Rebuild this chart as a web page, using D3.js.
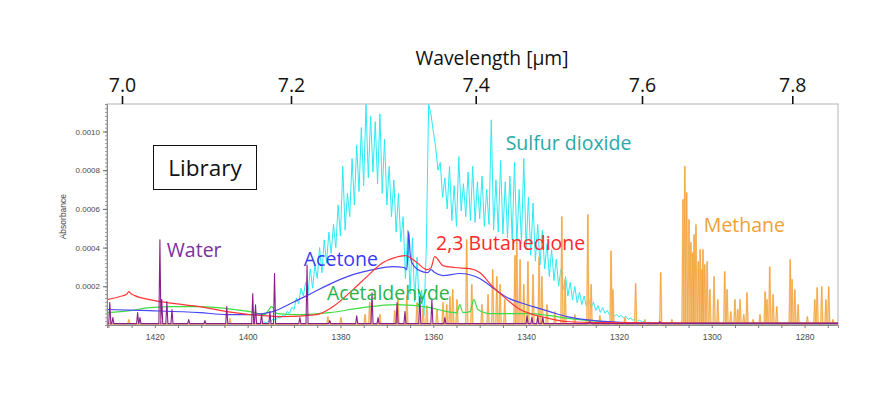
<!DOCTYPE html>
<html>
<head>
<meta charset="utf-8">
<script src="https://cdn.jsdelivr.net/npm/d3@7"></script>
<style>
    body { margin: 0; background: #fff; }
    svg { display: block; }
</style>
</head>
<body>
<div id="chart"></div>
<script>
// absorbance values below are in units of 1e-4
const ABS_UNIT = 1e-4;

const wavelengthTicks = [7.0, 7.2, 7.4, 7.6, 7.8];
const wavenumberTicks = [1420, 1400, 1380, 1360, 1340, 1320, 1300, 1280];
const absorbanceTicks = [2, 4, 6, 8, 10];

// sulfur dioxide, sampled every 0.5 cm-1 from 1400 cm-1 downwards
const so2Start = 1400;
const so2Step = 0.5;
const so2Values = [
    0.05, 0.06, 0.06, 0.08, 0.08, 0.1, 0.1, 0.15, 0.12, 0.2,
    0.2, 0.3, 0.25, 0.4, 0.35, 0.5, 0.45, 0.7, 0.6, 0.9,
    0.8, 1.4, 1.1, 1.9, 1.5, 2.2, 1.6, 2.9, 1.9, 3.1,
    2.4, 4.0, 2.7, 4.4, 3.2, 4.8, 3.7, 5.2, 4.0, 6.2,
    4.6, 8.2, 4.9, 6.8, 5.6, 8.6, 6.2, 9.3, 6.9, 10.2,
    7.2, 11.4, 7.6, 10.8, 7.9, 10.5, 7.3, 10.9, 6.8, 9.6,
    6.2, 8.2, 5.6, 7.5, 4.8, 6.8, 4.3, 5.6, 2.4, 4.9,
    1.6, 4.5, 1.2, 3.5, 0.8, 1.8, 0.5, 4.0, 11.4, 10.9,
    10.0, 9.2, 8.0, 8.4, 6.6, 7.6, 6.0, 8.2, 5.4, 7.2,
    5.1, 8.7, 5.9, 7.3, 5.6, 7.9, 5.4, 8.2, 5.3, 7.4,
    5.5, 7.7, 5.1, 7.0, 5.2, 10.6, 4.9, 7.5, 4.8, 8.5,
    4.7, 7.4, 4.5, 7.7, 4.4, 8.4, 4.2, 7.0, 4.2, 8.6,
    3.9, 6.6, 3.6, 6.3, 3.3, 5.2, 3.1, 4.9, 2.9, 4.2,
    2.5, 3.9, 2.3, 3.4, 2.0, 2.9, 1.8, 2.5, 1.5, 2.2,
    1.3, 2.0, 1.15, 1.7, 1.05, 1.5, 0.95, 1.35, 0.85, 1.2,
    0.75, 1.0, 0.65, 0.9, 0.6, 0.75, 0.5, 0.65, 0.45, 0.55,
    0.4, 0.5, 0.35, 0.45, 0.3, 0.35, 0.25, 0.3, 0.2, 0.25,
    0.15, 0.2, 0.12, 0.15, 0.1, 0.1, 0.08, 0.08, 0.05, 0.05
];
const so2Head = [[1430.3, 0.03], [1404, 0.04]];
const so2Tail = [[1300, 0.03], [1272.8, 0.03]];

// smooth broadband spectra as [wavenumber, absorbance]
const butanedione = [
    [1430.3, 1.31], [1427.5, 1.47], [1426.0, 1.60], [1425.6, 1.72], [1425.1, 1.62],
    [1424.3, 1.52], [1421.1, 1.31], [1415.7, 1.10], [1410.3, 0.95], [1404.5, 0.69],
    [1399.5, 0.54], [1392.4, 0.43], [1385.1, 0.54], [1381.6, 0.95], [1377.3, 1.83],
    [1374.3, 2.50], [1370.9, 3.22], [1368.3, 3.48], [1366.1, 3.59], [1363.5, 3.22],
    [1361.4, 2.86], [1360.5, 2.95], [1359.7, 3.53], [1357.9, 3.07], [1355.4, 2.97],
    [1352.1, 2.91], [1350.0, 2.71], [1347.2, 1.98], [1344.1, 1.31], [1341.3, 0.80],
    [1338.5, 0.54], [1334.9, 0.33], [1331.2, 0.18], [1324.1, 0.12], [1302.6, 0.10],
    [1272.8, 0.10]
];

const acetone = [
    [1430.3, 0.80], [1421.1, 0.74], [1410.3, 0.64], [1404.5, 0.54], [1399.5, 0.54],
    [1394.6, 0.69], [1390.3, 1.16], [1386.0, 1.67], [1381.6, 2.19], [1377.3, 2.60],
    [1373.0, 2.86], [1368.7, 3.02], [1366.3, 2.97], [1365.7, 2.86], [1365.5, 3.6],
    [1365.3, 4.83], [1365.0, 3.7], [1364.6, 3.22], [1362.9, 2.81], [1361.2, 2.71],
    [1360.5, 2.86], [1359.7, 2.71], [1357.9, 2.55], [1354.3, 2.66], [1350.0, 2.40],
    [1347.2, 1.93], [1344.1, 1.42], [1341.3, 1.16], [1338.5, 0.95], [1334.9, 0.69],
    [1331.2, 0.43], [1324.1, 0.20], [1313.3, 0.10], [1272.8, 0.10]
];

const acetaldehyde = [
    [1430.3, 0.64], [1425.3, 0.74], [1421.1, 0.90], [1415.7, 0.95], [1410.3, 0.95],
    [1404.5, 0.85], [1399.5, 0.69], [1396.3, 0.54], [1394.8, 0.95], [1393.7, 0.59],
    [1388.75, 0.54], [1382.3, 0.64], [1375.2, 0.90], [1367.8, 1.05], [1360.7, 0.90],
    [1357.1, 0.69], [1354.9, 0.64], [1354.3, 1.05], [1353.6, 0.64], [1352.1, 0.69],
    [1351.25, 1.31], [1350.4, 0.80], [1347.8, 0.59], [1343.5, 0.59], [1339.2, 0.59],
    [1334.9, 0.48], [1330.6, 0.33], [1324.1, 0.18], [1315.5, 0.10], [1272.8, 0.10]
];

// line spectra as [wavenumber, peak absorbance]
const waterBase = 0.07;
const waterPeaks = [
    [1429.7, 1.16], [1429.05, 0.38], [1423.7, 0.64], [1423.2, 0.38], [1418.9, 4.40],
    [1418.5, 1.31], [1417.4, 1.21], [1416.3, 0.80], [1412.7, 0.28], [1409.2, 0.23],
    [1404.5, 0.95], [1398.9, 1.62], [1398.3, 1.05], [1397.0, 0.54], [1395.2, 0.69],
    [1394.2, 2.66], [1388.75, 0.38], [1387.2, 3.10], [1382.3, 0.23], [1376.5, 0.48],
    [1373.2, 1.67], [1371.9, 0.38], [1367.8, 1.16], [1366.1, 0.69], [1362.9, 1.47],
    [1360.3, 1.31], [1357.5, 0.38], [1339.8, 0.48], [1338.75, 0.38], [1337.5, 0.43],
    [1336.4, 0.38], [1326.25, 0.18], [1311.2, 0.18]
];

const methaneBase = 0.05;
const methanePeaks = [
    [1425.6, 0.28], [1403.8, 0.33], [1382.7, 0.43], [1379.9, 0.38], [1374.7, 0.54],
    [1373.7, 1.16], [1371.5, 0.54], [1368.3, 0.74], [1367.6, 1.31], [1365.7, 1.52],
    [1363.5, 1.16], [1362.2, 0.85], [1361.4, 1.00], [1359.2, 0.80], [1357.9, 1.16],
    [1357.1, 1.05], [1356.4, 1.47], [1355.8, 1.83], [1354.9, 1.31], [1352.8, 4.41],
    [1351.7, 2.09], [1349.5, 1.05], [1348.2, 1.57], [1347.2, 2.86], [1346.3, 2.50],
    [1345.6, 2.09], [1344.6, 1.31], [1342.4, 3.59], [1342.0, 4.32], [1341.3, 3.38],
    [1340.5, 2.09], [1339.6, 3.27], [1338.5, 2.60], [1337.2, 3.53], [1336.6, 2.50],
    [1335.5, 1.05], [1333.8, 0.69], [1332.3, 5.60], [1331.6, 2.35], [1329.5, 0.54],
    [1326.7, 5.70], [1326.0, 2.09], [1324.1, 0.48], [1321.7, 3.82], [1321.3, 1.83],
    [1318.7, 0.38], [1316.4, 2.14], [1314.4, 0.28], [1311.0, 2.71], [1308.6, 0.28],
    [1306.2, 6.48], [1305.8, 8.19], [1305.4, 6.84], [1304.9, 5.45], [1304.5, 4.26],
    [1304.1, 3.74], [1303.8, 4.67], [1303.4, 5.19], [1302.9, 3.27], [1302.5, 3.90],
    [1302.1, 2.86], [1301.9, 3.90], [1301.5, 3.12], [1301.0, 3.27], [1300.4, 1.83],
    [1299.5, 2.50], [1298.7, 1.31], [1297.2, 2.76], [1296.7, 1.83], [1295.9, 0.69],
    [1295.0, 1.31], [1294.4, 0.80], [1293.9, 1.31], [1293.1, 0.54], [1292.4, 1.67],
    [1291.1, 0.28], [1289.6, 0.54], [1288.5, 1.72], [1288.1, 1.31], [1287.5, 3.00],
    [1286.8, 1.57], [1286.0, 0.95], [1283.1, 3.38], [1282.7, 2.35], [1282.1, 1.83],
    [1281.4, 1.05], [1279.4, 0.43], [1277.8, 1.31], [1277.3, 1.93], [1276.3, 1.98],
    [1275.4, 1.31], [1274.8, 1.98], [1273.9, 0.28]
];

const seriesNames = ["Sulfur dioxide", "Methane", "Water", "Acetone", "2,3 Butanedione", "Acetaldehyde"];

const margin = {
    top: 104,
    right: 46,
    bottom: 68,
    left: 107
};
const width = 884 - margin.left - margin.right;
const height = 393 - margin.top - margin.bottom;

const x = d3
    .scaleLinear()
    .domain([1430.3, 1272.8])
    .range([0, width]);

const y = d3
    .scaleLinear()
    .domain([0, 11.42])
    .range([height, 0]);

// the wavelength labels on the original were placed by hand over the plot
const xTop = d3
    .scaleLinear()
    .domain(wavelengthTicks)
    .range([15, 184, 368.7, 535, 685.3]);

const line = d3
    .line()
    .x(d => x(d[0]))
    .y(d => y(d[1]));

const PEAK_HALF = 0.22;

function stickPoints(peaks, base) {
    const pts = [[x.domain()[0], base]];
    peaks
        .slice()
        .sort((a, b) => b[0] - a[0])
        .forEach(p => {
            pts.push([p[0] + PEAK_HALF, base]);
            pts.push([p[0], p[1]]);
            pts.push([p[0] - PEAK_HALF, base]);
        });
    pts.push([x.domain()[1], base]);
    return pts;
}

const so2 = so2Head
    .concat(so2Values.map((v, i) => [so2Start - i * so2Step, v]))
    .concat(so2Tail);

const svg = d3
    .select("#chart")
    .append("svg")
    .attr("width", 884)
    .attr("height", 393)
    .append("g")
    .attr("transform", "translate(" + margin.left + "," + margin.top + ")");

svg
    .append("defs")
    .append("clipPath")
    .attr("id", "plotClip")
    .append("rect")
    .attr("width", width)
    .attr("height", height + 1);

svg
    .append("rect")
    .attr("width", width)
    .attr("height", height)
    .attr("fill", "none")
    .attr("stroke", "#b4b4b4");

const plot = svg
    .append("g")
    .attr("clip-path", "url(#plotClip)");

plot
    .append("path")
    .datum(so2)
    .attr("d", line)
    .attr("fill", "none")
    .attr("stroke", "#2aeaf4")
    .attr("stroke-width", 1);

const methanePts = stickPoints(methanePeaks, methaneBase);
plot
    .append("path")
    .datum(methanePts)
    .attr("d", line)
    .attr("fill", "none")
    .attr("stroke", "#f9cf98")
    .attr("stroke-opacity", 0.75)
    .attr("stroke-width", 1.8)
    .attr("stroke-linejoin", "round");
plot
    .append("path")
    .datum(methanePts)
    .attr("d", line)
    .attr("fill", "none")
    .attr("stroke", "#f09a28")
    .attr("stroke-width", 0.7);

const smooth = d3
    .line()
    .curve(d3.curveMonotoneX)
    .x(d => x(d[0]))
    .y(d => y(d[1]));

[
    [acetaldehyde, "#3fdc3f"],
    [acetone, "#4646f5"],
    [butanedione, "#ff3434"]
].forEach(s => {
    plot
        .append("path")
        .datum(s[0])
        .attr("d", smooth)
        .attr("fill", "none")
        .attr("stroke", s[1])
        .attr("stroke-width", 1.2);
});

plot
    .append("path")
    .datum(stickPoints(waterPeaks, waterBase))
    .attr("d", line)
    .attr("fill", "none")
    .attr("stroke", "#8a1f8c")
    .attr("stroke-width", 1.1)
    .attr("stroke-linejoin", "round");

// bottom axis, wavenumber
const xAxis = d3
    .axisBottom(x)
    .tickValues(d3.range(1430, 1272, -5))
    .tickSize(3)
    .tickFormat(d => wavenumberTicks.includes(d) ? d : "");

svg
    .append("g")
    .attr("transform", "translate(0," + height + ")")
    .call(xAxis)
    .call(g => g.select(".domain").attr("stroke", "#8c8c8c"))
    .call(g => g.selectAll(".tick line").attr("stroke", "#777"))
    .call(g => g.selectAll("text")
        .attr("fill", "#4a4a4a")
        .attr("font-family", "Liberation Sans, Arial")
        .attr("font-size", 8.5)
        .attr("dy", "1.05em"));

// left axis, absorbance
svg
    .append("g")
    .call(d3.axisLeft(y).tickValues(d3.range(0.2, 11.4, 0.2)).tickSize(2).tickFormat(""))
    .call(g => g.select(".domain").attr("stroke", "#8c8c8c"))
    .call(g => g.selectAll(".tick line").attr("stroke", "#999"));

svg
    .append("g")
    .call(d3.axisLeft(y).tickValues(absorbanceTicks).tickSize(4).tickFormat(d => (d * ABS_UNIT).toFixed(4)))
    .call(g => g.select(".domain").remove())
    .call(g => g.selectAll(".tick line").attr("stroke", "#666"))
    .call(g => g.selectAll("text")
        .attr("fill", "#4a4a4a")
        .attr("font-family", "Liberation Sans, Arial")
        .attr("font-size", 8)
        .attr("x", -7));

svg
    .append("text")
    .text("Absorbance")
    .attr("transform", "translate(-41," + (y(5.6)) + ") rotate(-90)")
    .attr("text-anchor", "middle")
    .attr("fill", "#4a4a4a")
    .attr("font-family", "Liberation Sans, Arial")
    .attr("font-size", 8.5);

// top axis, wavelength
svg
    .append("g")
    .call(d3.axisTop(xTop).tickValues(wavelengthTicks).tickSize(8).tickFormat(d3.format(".1f")))
    .call(g => g.select(".domain").remove())
    .call(g => g.selectAll(".tick line").attr("stroke", "#111").attr("stroke-width", 1.6))
    .call(g => g.selectAll("text")
        .attr("fill", "#111")
        .attr("font-family", "Open Sans")
        .attr("font-size", 19.5)
        .attr("y", -12));

svg
    .append("text")
    .text("Wavelength [\u00b5m]")
    .attr("x", 385)
    .attr("y", -39)
    .attr("text-anchor", "middle")
    .attr("fill", "#111")
    .attr("font-family", "Open Sans")
    .attr("font-size", 19.3);

// library box
svg
    .append("rect")
    .attr("x", 46.5)
    .attr("y", 41.5)
    .attr("width", 103)
    .attr("height", 44)
    .attr("fill", "#fff")
    .attr("stroke", "#111");

svg
    .append("text")
    .text("Library")
    .attr("x", 98)
    .attr("y", 72)
    .attr("text-anchor", "middle")
    .attr("fill", "#111")
    .attr("font-family", "Open Sans")
    .attr("font-size", 22.5);

// series labels, placed in data coordinates
const labelSpots = [
    [1344.4, 9.06, "#2aa8a8"],
    [1301.7, 4.78, "#f2a035"],
    [1417.4, 3.53, "#7a30a0"],
    [1387.9, 3.07, "#3a3af5"],
    [1359.4, 3.85, "#ff2a2a"],
    [1382.9, 1.31, "#2fb24a"]
];

svg
    .selectAll("text.series")
    .data(seriesNames)
    .join("text")
    .attr("class", "series")
    .text(d => d)
    .attr("x", (d, i) => x(labelSpots[i][0]))
    .attr("y", (d, i) => y(labelSpots[i][1]))
    .attr("fill", (d, i) => labelSpots[i][2])
    .attr("font-family", "Open Sans")
    .attr("font-size", 19.5);
</script>
</body>
</html>
